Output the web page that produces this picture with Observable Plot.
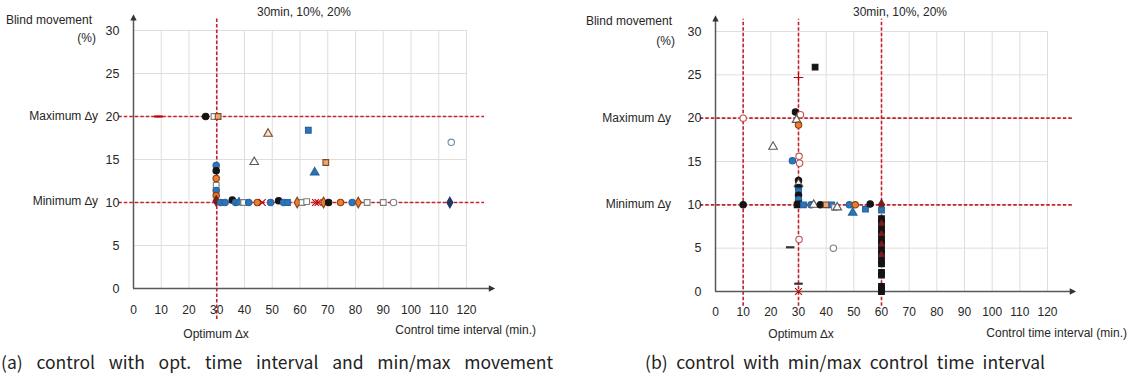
<!DOCTYPE html>
<html><head><meta charset="utf-8">
<script src="https://cdn.jsdelivr.net/npm/d3@7"></script>
<script src="https://cdn.jsdelivr.net/npm/@observablehq/plot@0.6"></script>
<style>
body{margin:0;background:#fff;}
#wrap{position:relative;width:1134px;height:378px;overflow:hidden;font-family:"Liberation Sans",Arial,sans-serif;color:#262626;}
.lbl{position:absolute;font-size:12px;line-height:14px;white-space:nowrap;}
.cap{position:absolute;font-family:"Noto Sans CJK KR","Noto Sans",sans-serif;font-size:17.5px;line-height:22px;color:#222;text-align:justify;text-align-last:justify;white-space:nowrap;}
.panel{position:absolute;top:0;}
</style></head>
<body><div id="wrap"></div>
<script>
// ---------- data ----------
const title = "30min, 10%, 20%";
const xTicks = [0,10,20,30,40,50,60,70,80,90,100,110,120];
const yTicks = [0,5,10,15,20,25,30];
const gridX = [10,20,30,40,50,60,70,80,90,100,110,120];
const gridY = [5,10,15,20,25,30];
const refYa = [10,20];     // min / max movement (a)
const refXa = [30];        // optimum interval (a)
const refYb = [10,20];
const refXb = [10,30,60];  // min / opt / max interval (b)

// panel (a) points
const aX = [9,26,29,30.5,48.5,63,43.5,69.3,65.3,114.5,114,
  29.8,29.8,29.8,29.8,29.8,29.8,29.8,
  31.4,33,35.6,36.8,38,39.7,41.5,44.6,46.4,49.4,52.3,54.1,55.5,59,60.8,62.4,65.6,66.5,68.5,70.3,74.6,78.8,81,84.2,90,93.7];
const aY = [20,20,20,20,18,18.4,14.7,14.65,13.5,17,10,
  14.3,13.7,12.8,12,11.4,10.8,10.2,
  10,10,10.3,10,10,10,10,10,10,10,10.2,10,10,10,10,10.1,10,10,10,10,10,10,10,10,10,10];
const aS = ["K","A","D","H","M","E","F","H","G","R","N",
  "B","A","C","D","B","C","J",
  "B","B","A","B","G","D","B","C","T","B","A","B","E","S","D","D","T","T","S","A","C","B","S","D","D","I"];

// panel (b) points
const bX = [10,10,36,30,28.9,30.7,29.3,30,20.8,27.8,30.2,30.4,
  30,30,30,30,30,30,30,
  27,30.2,30,30,42.6,
  29.5,31.8,34.5,35.5,37.9,40,42,43,44,48.4,50.5,49.6,54.2,55.9,60,
  60,60,60,60,60,60,60,60,60,60,60,60,60,60,60,60,60,60,60,60];
const bY = [20,10,25.9,24.7,20.7,20.4,19.8,19.2,16.7,15.1,15.6,14.8,
  12.8,12.4,12,11.6,11.1,10.6,10.1,
  5.1,6.0,0.9,0,5.0,
  10,10,10,10,10,10,10,9.7,9.7,10,10,9.1,9.5,10.1,10,
  9.4,8.4,8.0,7.6,7.2,6.8,6.4,6.0,5.6,5.2,4.8,4.4,4.0,3.6,3.2,2.2,1.9,0.6,0.3,0];
const bS = ["P","A","L","O","A","P","F","C","F","B","P","P",
  "A","F","A","E","A","B","L",
  "Q","P","Q","T","I",
  "L","E","B","F","A","H","E","D","F","B","C","G","E","A","J",
  "E","L","L","J","L","L","J","L","L","J","L","L","J","L","L","L","L","L","L","L"];

// ---------- styles ----------
const dash = {draw(ctx, size){const w=Math.sqrt(size)*0.75, h=1.1; ctx.moveTo(-w,-h);ctx.lineTo(w,-h);ctx.lineTo(w,h);ctx.lineTo(-w,h);ctx.closePath();}};
const arrowUp = {draw(ctx, size){const s=Math.sqrt(size)*0.6; ctx.moveTo(0,-s*1.6);ctx.lineTo(s,s*0.4);ctx.lineTo(-s,s*0.4);ctx.closePath();}};
const arrowRight = {draw(ctx, size){const s=Math.sqrt(size)*0.6; ctx.moveTo(s*1.6,0);ctx.lineTo(-s*0.4,s);ctx.lineTo(-s*0.4,-s);ctx.closePath();}};
const BLUE="#2e75b6", ORANGE="#ec7d31", BLACK="#141414", GRAY="#7f7f7f", DRED="#7b1c1c", RED="#c00000";
const sty = {
  A:{sym:"circle",fill:BLACK,stroke:BLACK},
  B:{sym:"circle",fill:BLUE,stroke:"#2563a0"},
  C:{sym:"circle",fill:ORANGE,stroke:"#8a4010"},
  D:{sym:"square",fill:"white",stroke:GRAY},
  E:{sym:"square",fill:BLUE,stroke:"#2563a0"},
  F:{sym:"triangle",fill:"white",stroke:"#595959"},
  G:{sym:"triangle",fill:BLUE,stroke:"#2563a0"},
  H:{sym:"square",fill:"#f2a56a",stroke:"#7a4a2a"},
  I:{sym:"circle",fill:"white",stroke:GRAY},
  J:{sym:"diamond",fill:DRED,stroke:DRED},
  K:{sym:dash,fill:RED,stroke:"none"},
  L:{sym:"square",fill:BLACK,stroke:BLACK},
  M:{sym:"triangle",fill:"#fbe2cf",stroke:"#7a4a2a"},
  N:{sym:"diamond",fill:"#1f3864",stroke:"#1f3864"},
  O:{sym:"plus",fill:"none",stroke:RED},
  P:{sym:"circle",fill:"white",stroke:"#c0504d"},
  Q:{sym:dash,fill:"#333",stroke:"none"},
  R:{sym:"circle",fill:"white",stroke:"#6f8fa8"},
  S:{sym:"diamond",fill:ORANGE,stroke:"#8a4010"},
  T:{sym:"times",fill:"none",stroke:RED}
};

const toRows = (X,Y,S) => X.map((x,i)=>({x, y:Y[i], s:S[i]}));
const FONT = '"Liberation Sans", Arial, sans-serif';
const AXIS = "#595959";

function panel(rows, refX, refY, m){
  return Plot.plot({
    width: 567, height: 345,
    marginLeft: m.left, marginRight: m.right, marginTop: m.top, marginBottom: m.bottom,
    x: {domain:[0,120]}, y: {domain:[0,30]},
    style: {fontFamily: FONT, fontSize: "12px", color: "#262626", background: "transparent", overflow: "visible"},
    marks: [
      Plot.ruleY(gridY, {x1:0, x2:120, stroke:"#dedede", strokeWidth:1}),
      Plot.ruleX(gridX, {y1:0, y2:30, stroke:"#dedede", strokeWidth:1}),
      Plot.ruleY(refY, {x1:m.hx1, x2:m.hx2, stroke:"#c8202a", strokeWidth:1.6, strokeDasharray:"3.5,2"}),
      Plot.ruleX(refX, {y1:m.vy1, y2:31.4, stroke:"#c8202a", strokeWidth:1.6, strokeDasharray:"3.5,2"}),
      Plot.ruleY([0], {x1:0, x2:128.5, stroke:AXIS, strokeWidth:1.5}),
      Plot.ruleX([0], {y1:0, y2:31.3, stroke:AXIS, strokeWidth:1.5}),
      Plot.dot([{x:128.5, y:0}], {x:"x", y:"y", symbol:()=>arrowRight, r:3, fill:"#333", stroke:"none"}),
      Plot.dot([{x:0, y:31.3}], {x:"x", y:"y", symbol:()=>arrowUp, r:3, fill:"#333", stroke:"none"}),
      Plot.axisX(xTicks, {anchor:"bottom", tickSize:0, tickPadding:m.xpad, fontSize:12, label:null}),
      Plot.axisY(yTicks, {anchor:"left", tickSize:0, tickPadding:14, fontSize:12.5, label:null}),
      Plot.dot(rows, {x:"x", y:"y", r:3.2, strokeWidth:1.1,
        symbol: d=>sty[d.s].sym, fill: d=>sty[d.s].fill, stroke: d=>sty[d.s].stroke})
    ]
  });
}

const wrap = document.getElementById("wrap");
function addSvg(svg, left){ const d=document.createElement("div"); d.className="panel"; d.style.left=left+"px"; d.appendChild(svg); wrap.appendChild(d); }
function lbl(text, x, y, anchor){
  const d=document.createElement("div"); d.className="lbl"; d.textContent=text;
  const tx = anchor==="end" ? "-100%" : anchor==="middle" ? "-50%" : "0";
  d.style.left=x+"px"; d.style.top=y+"px"; d.style.transform=`translate(${tx},-50%)`;
  wrap.appendChild(d); return d;
}
function cap(text, x, y, w){
  const d=document.createElement("div"); d.className="cap"; d.textContent=text;
  d.style.left=x+"px"; d.style.top=y+"px"; d.style.width=w+"px"; wrap.appendChild(d);
}

addSvg(panel(toRows(aX,aY,aS), refXa, refYa, {left:133, right:101, top:30, bottom:57, hx1:-5.3, hx2:126.5, vy1:-3.6, xpad:17}), 0);
addSvg(panel(toRows(bX,bY,bS), refXb, refYb, {left:148, right:87, top:31, bottom:54, hx1:-5.5, hx2:129, vy1:-1.7, xpad:16}), 567);

// panel (a) text
lbl(title, 304, 12, "middle");
lbl("Blind movement", 92, 20, "end");
lbl("(%)", 96, 38, "end");
lbl("Maximum \u2206y", 98, 116, "end");
lbl("Minimum \u2206y", 98, 201, "end");
lbl("Optimum \u2206x", 216, 334, "middle");
lbl("Control time interval  (min.)", 536, 330, "end");
// panel (b) text
lbl(title, 900, 12, "middle");
lbl("Blind movement", 672, 21, "end");
lbl("(%)", 675, 41, "end");
lbl("Maximum \u2206y", 671, 118, "end");
lbl("Minimum \u2206y", 671, 204, "end");
lbl("Optimum \u2206x", 801, 334, "middle");
lbl("Control time interval  (min.)", 1127, 333, "end");

cap("(a) control with opt. time interval and min/max movement", 1, 351, 552);
cap("(b) control with min/max control time interval", 645, 351, 400);
</script></body></html>
